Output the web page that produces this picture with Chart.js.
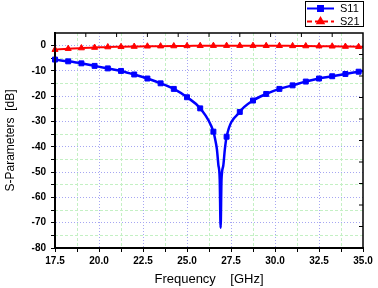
<!DOCTYPE html>
<html>
<head>
<meta charset="utf-8">
<script src="https://cdn.jsdelivr.net/npm/chart.js@4.4.1/dist/chart.umd.min.js"></script>
<style>
  body { margin: 0; background: #fff; }
  #wrap { width: 378px; height: 288px; }
</style>
</head>
<body>
<div id="wrap"><canvas id="sparams" width="378" height="288"></canvas></div>
<script>
// frequency samples (GHz) - markers every 0.75 GHz, line ends at 35
const freq = [17.5, 18.25, 19.0, 19.75, 20.5, 21.25, 22.0, 22.75, 23.5, 24.25, 25.0, 25.75,
              26.5, 27.25, 28.0, 28.75, 29.5, 30.25, 31.0, 31.75, 32.5, 33.25, 34.0, 34.75, 35.0];
const s11 = [-5.5, -6.2, -7.0, -8.0, -9.0, -10.0, -11.4, -13.0, -14.9, -17.1, -20.4, -24.8,
             -34.0, -36.0, -26.2, -21.7, -19.1, -17.1, -15.7, -14.2, -13.0, -12.1, -11.2, -10.3, -10.0];
const s21 = [-1.6, -1.2, -0.95, -0.75, -0.55, -0.45, -0.35, -0.25, -0.2, -0.15, -0.1, -0.05,
             0, 0, 0, 0, -0.05, -0.05, -0.1, -0.15, -0.2, -0.25, -0.35, -0.45, -0.5];
// extra S11 samples around the resonance
const dipFreq = [26.6, 26.7, 26.78, 26.86, 26.91, 26.96, 27.06, 27.15];
const dipS11 = [-37, -41, -47, -53, -72, -53, -47.5, -41];

const xMajor = [17.5, 20.0, 22.5, 25.0, 27.5, 30.0, 32.5, 35.0];
const yMajor = [-80, -70, -60, -50, -40, -30, -20, -10, 0];

const markerStep = 0.75;

function isMarker(x) {
    const k = (x - 17.5) / markerStep;
    return Math.abs(k - Math.round(k)) < 1e-6;
}
function isMajorX(v) { return xMajor.some(m => Math.abs(m - v) < 1e-6); }
function isMajorY(v) { return yMajor.some(m => Math.abs(m - v) < 1e-6); }

const s11Points = freq.map((f, i) => ({ x: f, y: s11[i] }))
    .concat(dipFreq.map((f, i) => ({ x: f, y: dipS11[i] })))
    .sort((a, b) => a.x - b.x);
const s21Points = freq.map((f, i) => ({ x: f, y: s21[i] }));

const tickFont = { family: 'Arial, "Liberation Sans"', size: 10, weight: 'bold' };

const framePlugin = {
    id: 'frame',
    afterDatasetsDraw(chart) {
        const { ctx, chartArea: a, scales } = chart;
        ctx.save();
        ctx.strokeStyle = '#000';
        ctx.lineWidth = 1.5;
        ctx.strokeRect(a.left, a.top, a.right - a.left, a.bottom - a.top);
        ctx.lineWidth = 1;
        // inward ticks on top and right edges
        for (let k = 1; k < 10; k++) {
            const px = scales.x.getPixelForValue(17.5 + 1.75 * k);
            ctx.beginPath(); ctx.moveTo(px, a.top); ctx.lineTo(px, a.top + 4); ctx.stroke();
            const py = scales.y.getPixelForValue(-80 + 8.5 * k);
            ctx.beginPath(); ctx.moveTo(a.right, py); ctx.lineTo(a.right - 4, py); ctx.stroke();
        }
        ctx.restore();
    }
};

const legendPlugin = {
    id: 'boxLegend',
    afterDraw(chart) {
        const ctx = chart.ctx;
        ctx.save();
        ctx.strokeStyle = '#000';
        ctx.lineWidth = 1;
        ctx.strokeRect(305.5, 1.5, 58, 25);
        const rows = [
            { y: 8.5, color: '#0000ff', dash: [], style: 'rect', text: 'S11' },
            { y: 21.5, color: '#ff0000', dash: [5, 3], style: 'triangle', text: 'S21' }
        ];
        rows.forEach(r => {
            ctx.strokeStyle = r.color;
            ctx.lineWidth = 2;
            ctx.setLineDash(r.dash);
            ctx.beginPath(); ctx.moveTo(307, r.y); ctx.lineTo(334, r.y); ctx.stroke();
            ctx.setLineDash([]);
            ctx.fillStyle = r.color;
            Chart.helpers.drawPoint(ctx, { pointStyle: r.style, radius: 3.5, borderWidth: 1 }, 320.5, r.y);
            ctx.fillStyle = '#000';
            ctx.font = '11px Arial, "Liberation Sans"';
            ctx.textBaseline = 'middle';
            ctx.fillText(r.text, 340, r.y + 0.5);
        });
        ctx.restore();
    }
};

new Chart(document.getElementById('sparams'), {
    type: 'line',
    data: {
        datasets: [
            {
                label: 'S11',
                data: s11Points,
                borderColor: '#0000ff',
                backgroundColor: '#0000ff',
                borderWidth: 2.5,
                pointStyle: 'rect',
                pointRadius: ctx => isMarker(ctx.raw.x) ? 3.5 : 0,
                pointBorderWidth: 1,
                cubicInterpolationMode: 'monotone'
            },
            {
                label: 'S21',
                data: s21Points,
                borderColor: '#ff0000',
                backgroundColor: '#ff0000',
                borderWidth: 2,
                pointStyle: 'triangle',
                pointRadius: ctx => isMarker(ctx.raw.x) ? 3.5 : 0,
                pointBorderWidth: 1,
                cubicInterpolationMode: 'monotone'
            }
        ]
    },
    options: {
        responsive: false,
        animation: false,
        clip: false,
        layout: { padding: { top: 33, right: 15, left: 0, bottom: 0 } },
        plugins: { legend: { display: false }, tooltip: { enabled: false } },
        scales: {
            x: {
                type: 'linear', position: 'bottom', min: 17.5, max: 35,
                afterBuildTicks: s => {
                    const t = [];
                    for (let v = 17.5; v <= 35.0001; v += 1.25) t.push({ value: +v.toFixed(2) });
                    s.ticks = t;
                },
                afterFit: s => { s.height = 40; },
                ticks: {
                    autoSkip: false, maxRotation: 0, padding: 3, color: '#000', font: tickFont,
                    callback: v => isMajorX(v) ? v.toFixed(1) : ''
                },
                grid: {
                    color: c => (c.tick && isMajorX(c.tick.value) && c.tick.value > 17.6 && c.tick.value < 34.9) ? '#a6a6f2' : 'rgba(0,0,0,0)',
                    tickColor: '#000', tickLength: 4, tickWidth: 1, lineWidth: 1
                },
                border: { color: '#000', width: 2, dash: [1, 2] },
                title: {
                    display: true, text: 'Frequency    [GHz]', color: '#000',
                    font: { family: 'Arial, "Liberation Sans"', size: 13 }, padding: { top: 0, bottom: 1 }
                }
            },
            xm: {
                type: 'linear', position: 'bottom', min: 17.5, max: 35,
                afterBuildTicks: s => {
                    const t = [];
                    for (let v = 18.75; v < 35; v += 2.5) t.push({ value: v });
                    s.ticks = t;
                },
                afterFit: s => { s.height = 0; },
                ticks: { display: false },
                grid: { color: '#c4f0c4', drawTicks: false, lineWidth: 1 },
                border: { display: false, dash: [3, 2] }
            },
            y: {
                type: 'linear', position: 'left', min: -80, max: 5,
                afterBuildTicks: s => {
                    const t = [];
                    for (let v = -80; v <= 0; v += 5) t.push({ value: v });
                    s.ticks = t;
                },
                afterFit: s => { s.width = 55; },
                ticks: {
                    autoSkip: false, padding: 5, color: '#000', font: tickFont,
                    callback: v => isMajorY(v) ? String(v) : ''
                },
                grid: {
                    color: c => (c.tick && isMajorY(c.tick.value) && c.tick.value > -79) ? '#a6a6f2' : 'rgba(0,0,0,0)',
                    tickColor: '#000', tickLength: 4, tickWidth: 1, lineWidth: 1
                },
                border: { color: '#000', width: 2, dash: [1, 2] },
                title: {
                    display: true, text: 'S-Parameters  [dB]', color: '#000',
                    font: { family: 'Arial, "Liberation Sans"', size: 12 }, padding: { top: 3, bottom: 0 }
                }
            },
            ym: {
                type: 'linear', position: 'left', min: -80, max: 5,
                afterBuildTicks: s => {
                    const t = [];
                    for (let v = -75; v < 0; v += 10) t.push({ value: v });
                    s.ticks = t;
                },
                afterFit: s => { s.width = 0; },
                ticks: { display: false },
                grid: { color: '#c4f0c4', drawTicks: false, lineWidth: 1 },
                border: { display: false, dash: [3, 2] }
            }
        }
    },
    plugins: [framePlugin, legendPlugin]
});
</script>
</body>
</html>
